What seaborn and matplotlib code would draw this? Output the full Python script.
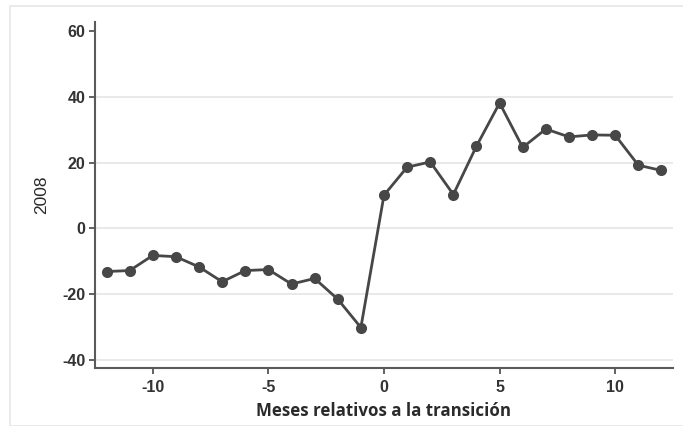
import seaborn as sns
import pandas as pd
import numpy as np
import matplotlib.pyplot as plt
from matplotlib.patches import Rectangle

meses = list(range(-12, 13))
valores = [-13.1, -12.8, -8.2, -8.6, -11.7, -16.2, -12.8, -12.5, -16.9, -15.2,
           -21.5, -30.1, 10.1, 18.6, 20.2, 10.3, 25.0, 38.1, 24.6, 30.2,
           27.8, 28.4, 28.3, 19.2, 17.6]
y_ticks = [-40, -20, 0, 20, 40, 60]
x_ticks = [-10, -5, 0, 5, 10]

df = pd.DataFrame({'mes': meses, 'valor': valores})

sns.set_style('white')
plt.rcParams['font.family'] = ['Liberation Sans', 'DejaVu Sans']

fig = plt.figure(figsize=(6.83, 4.26), dpi=100)
fig.patches.append(Rectangle((10 / 683, 0.0), 1.0, 1 - 6 / 426, transform=fig.transFigure,
                             fill=False, edgecolor='#e6e6e6', linewidth=1.2))
ax = fig.add_axes([95 / 683, 1 - 368 / 426, (673 - 95) / 683, (368 - 22) / 426])

for t in [-40, -20, 0, 20, 40]:
    ax.axhline(t, color='#e3e3e3', linewidth=1.1, zorder=0)

sns.lineplot(data=df, x='mes', y='valor', ax=ax, color='#474747', linewidth=2,
             marker='o', markersize=8, markeredgewidth=0, zorder=3)

ax.set_xlim(-12.5, 12.5)
ax.set_ylim(-42.4, 62.7)
ax.set_xticks(x_ticks)
ax.set_yticks(y_ticks)
ax.set_xticklabels([str(v) for v in x_ticks])
ax.set_yticklabels([str(v) for v in y_ticks])
ax.tick_params(axis='both', direction='out', length=4, width=1.3, color='#555555',
               labelsize=11.5, labelcolor='#333333', bottom=True, left=True, pad=3)
ax.tick_params(axis='x', pad=5)
for lab in ax.get_xticklabels() + ax.get_yticklabels():
    lab.set_fontweight('bold')
for side in ['top', 'right']:
    ax.spines[side].set_visible(False)
for side in ['left', 'bottom']:
    ax.spines[side].set_color('#5a5a5a')
    ax.spines[side].set_linewidth(1.5)

ax.set_ylabel('2008', fontsize=12.5, color='#2a2a2a', labelpad=9)
ax.set_xlabel('Meses relativos a la transición', fontsize=12.2, fontweight='bold',
              color='#2a2a2a', family=['Open Sans', 'DejaVu Sans'], labelpad=5)

fig.savefig('out.png', dpi=100)
